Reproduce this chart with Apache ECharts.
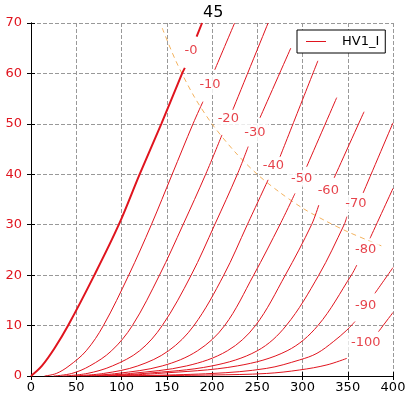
<!DOCTYPE html>
<html>
<head>
<meta charset="utf-8">
<script src="https://cdn.jsdelivr.net/npm/echarts@6/dist/echarts.min.js"></script>
<style>
  html, body { margin: 0; padding: 0; background: #fff; }
  #main { width: 410px; height: 397px; }
</style>
</head>
<body>
<div id="main"></div>
<script>
// plate voltage (x) and plate current (y); null = label gap
var va0 = [0, 12, 26, 41, 70, 97, 120, 144, 167, 170, null, 183, 189];
var ia0 = [0, 2, 5.5, 10, 20, 30, 40, 50, 60, 61.1, null, 67.3, 70];
var va10 = [15, 28, 42, 61, 80, 108, 133, 156, 179, 190, null, 203, 225];
var ia10 = [0, 0.5, 2, 5, 10, 20, 30, 40, 50, 54.4, null, 60.7, 70];
var va20 = [25, 45, 65, 89, 112, 142, 168, 193, 211, null, 223, 262];
var ia20 = [0, 0.5, 2, 5, 10, 20, 30, 40, 47.8, null, 52.8, 70];
var va30 = [35, 62, 90, 120, 145, 177, 203, 228, 240, null, 253, 287];
var ia30 = [0, 0.5, 2, 5, 10, 20, 30, 40, 45.5, null, 51.2, 65];
var va40 = [45, 80, 118, 152, 180, 213, 239, 262, null, 275, 317];
var ia40 = [0, 0.5, 2, 5, 10, 20, 30, 38.9, null, 43.4, 62.5];
var va50 = [55, 95, 145, 184, 214, 246, 275, 291.7, null, 304.6, 337.8];
var ia50 = [0, 0.5, 2, 5, 10, 20, 30, 36.2, null, 41.5, 55.2];
var va60 = [65, 110, 172, 217, 248, 281, 310, 318, null, 335, 368];
var ia60 = [0, 0.5, 2, 5, 10, 20, 30, 33.9, null, 39.3, 52.4];
var va70 = [75, 125, 200, 250, 282, 318, 346, 349, null, 367, 400];
var ia70 = [0, 0.5, 2, 5, 10, 20, 30, 31.6, null, 36.3, 50.2];
var va80 = [85, 140, 228, 283, 317, 354, 360, null, 374.6, 400];
var ia80 = [0, 0.5, 2, 5, 10, 20, 22, null, 27.3, 37.2];
var va90 = [95, 200, 260, 297, 316, 334, 349, 358, null, 380, 400];
var ia90 = [0, 0.5, 1.5, 3.2, 4.5, 6.8, 9.1, 10.8, null, 16.4, 21.5];
var va100 = [100, 200, 260, 297, 327, 349, null, 384, 400];
var ia100 = [0, 0.2, 0.5, 1.2, 2.2, 3.5, null, 8.8, 12.6];

// dissipation limit (orange dashed)
var pdX = [145, 160, 180, 200, 225, 250, 275, 300, 325, 350, 375, 390];
var pdY = [69, 62.5, 55.5, 50, 44.5, 40, 36.4, 33.3, 30.8, 28.6, 26.7, 25.6];

// curve labels
var lblText = ['-0', '-10', '-20', '-30', '-40', '-50', '-60', '-70', '-80', '-90', '-100'];
var lblX = [176.8, 197.8, 218, 247.5, 267.8, 299, 328.5, 359, 369.8, 369.8, 370];
var lblY = [64.5, 57.7, 51, 48.3, 41.8, 39.2, 36.7, 34.2, 25, 13.9, 6.6];

var curvesX = [va0, va10, va20, va30, va40, va50, va60, va70, va80, va90, va100];
var curvesY = [ia0, ia10, ia20, ia30, ia40, ia50, ia60, ia70, ia80, ia90, ia100];

var red = '#e0141e';
var font = 'DejaVu Sans';

function toPairs(xs, ys) {
    return xs.map(function (x, i) {
        return x === null ? ['-', '-'] : [x, ys[i]];
    });
}

var dom = document.getElementById('main');
var myChart = echarts.init(dom);

var series = [];
curvesX.forEach(function (xs, k) {
    series.push({
        name: 'HV1_I',
        type: 'line',
        data: toPairs(xs, curvesY[k]),
        showSymbol: false,
        smooth: 0.35,
        connectNulls: false,
        lineStyle: { color: red, width: k === 0 ? 2 : 1 },
        itemStyle: { color: red },
        z: 3
    });
});

series.push({
    name: 'Pd',
    type: 'line',
    data: toPairs(pdX, pdY),
    showSymbol: false,
    smooth: 0.3,
    lineStyle: { color: '#f3b25e', width: 1, type: [5, 4] },
    itemStyle: { color: '#f3b25e' },
    z: 2
});

series.push({
    name: 'labels',
    type: 'scatter',
    symbolSize: 0,
    data: lblX.map(function (x, i) { return [x, lblY[i]]; }),
    label: {
        show: true,
        position: 'inside',
        formatter: function (p) { return lblText[p.dataIndex]; },
        color: red,
        fontFamily: font,
        fontSize: 13,
        backgroundColor: '#fff',
        padding: [2, 3]
    },
    z: 10
});

var option = {
    animation: false,
    title: {
        text: '45',
        left: 198,
        top: 0,
        textStyle: { fontFamily: font, fontSize: 16, fontWeight: 'normal', color: '#000' }
    },
    legend: {
        data: ['HV1_I'],
        left: 297,
        top: 30,
        padding: [5, 6, 5, 9],
        itemWidth: 20,
        itemHeight: 1,
        icon: 'rect',
        borderColor: '#000',
        borderWidth: 1,
        borderRadius: 0,
        backgroundColor: '#fff',
        textStyle: { fontFamily: font, fontSize: 13, color: '#000', padding: [0, 0, 0, 11] }
    },
    grid: { left: 31, right: 17, top: 23, bottom: 21 },
    xAxis: [{
        type: 'value',
        min: 0, max: 400, interval: 50,
        axisLine: { show: true, onZero: false, lineStyle: { color: '#000', width: 1 } },
        axisTick: { show: true, inside: true, length: 4, lineStyle: { color: '#000' } },
        axisLabel: { color: '#000', fontFamily: font, fontSize: 13, margin: 5 },
        splitLine: { show: true, lineStyle: { color: '#999', type: [4, 2], width: 1 } }
    }, {
        type: 'value',
        position: 'top',
        min: 0, max: 400, interval: 50,
        axisLine: { show: true, lineStyle: { color: '#000', width: 1 } },
        axisTick: { show: true, inside: true, length: 4, lineStyle: { color: '#000' } },
        axisLabel: { show: false },
        splitLine: { show: false }
    }],
    yAxis: [{
        type: 'value',
        min: 0, max: 70, interval: 10,
        axisLine: { show: true, onZero: false, lineStyle: { color: '#000', width: 1 } },
        axisTick: { show: true, inside: true, length: 4, lineStyle: { color: '#000' } },
        axisLabel: { color: red, fontFamily: font, fontSize: 13, margin: 9 },
        splitLine: { show: true, lineStyle: { color: '#999', type: [4, 2], width: 1 } }
    }, {
        type: 'value',
        position: 'right',
        min: 0, max: 70, interval: 10,
        axisLine: { show: true, lineStyle: { color: '#000', width: 1 } },
        axisTick: { show: true, inside: true, length: 4, lineStyle: { color: '#000' } },
        axisLabel: { show: false },
        splitLine: { show: false }
    }],
    series: series
};

if (option && typeof option === 'object') {
    myChart.setOption(option, true);
}

window.addEventListener('resize', function () {
    myChart.resize();
});
</script>
</body>
</html>
